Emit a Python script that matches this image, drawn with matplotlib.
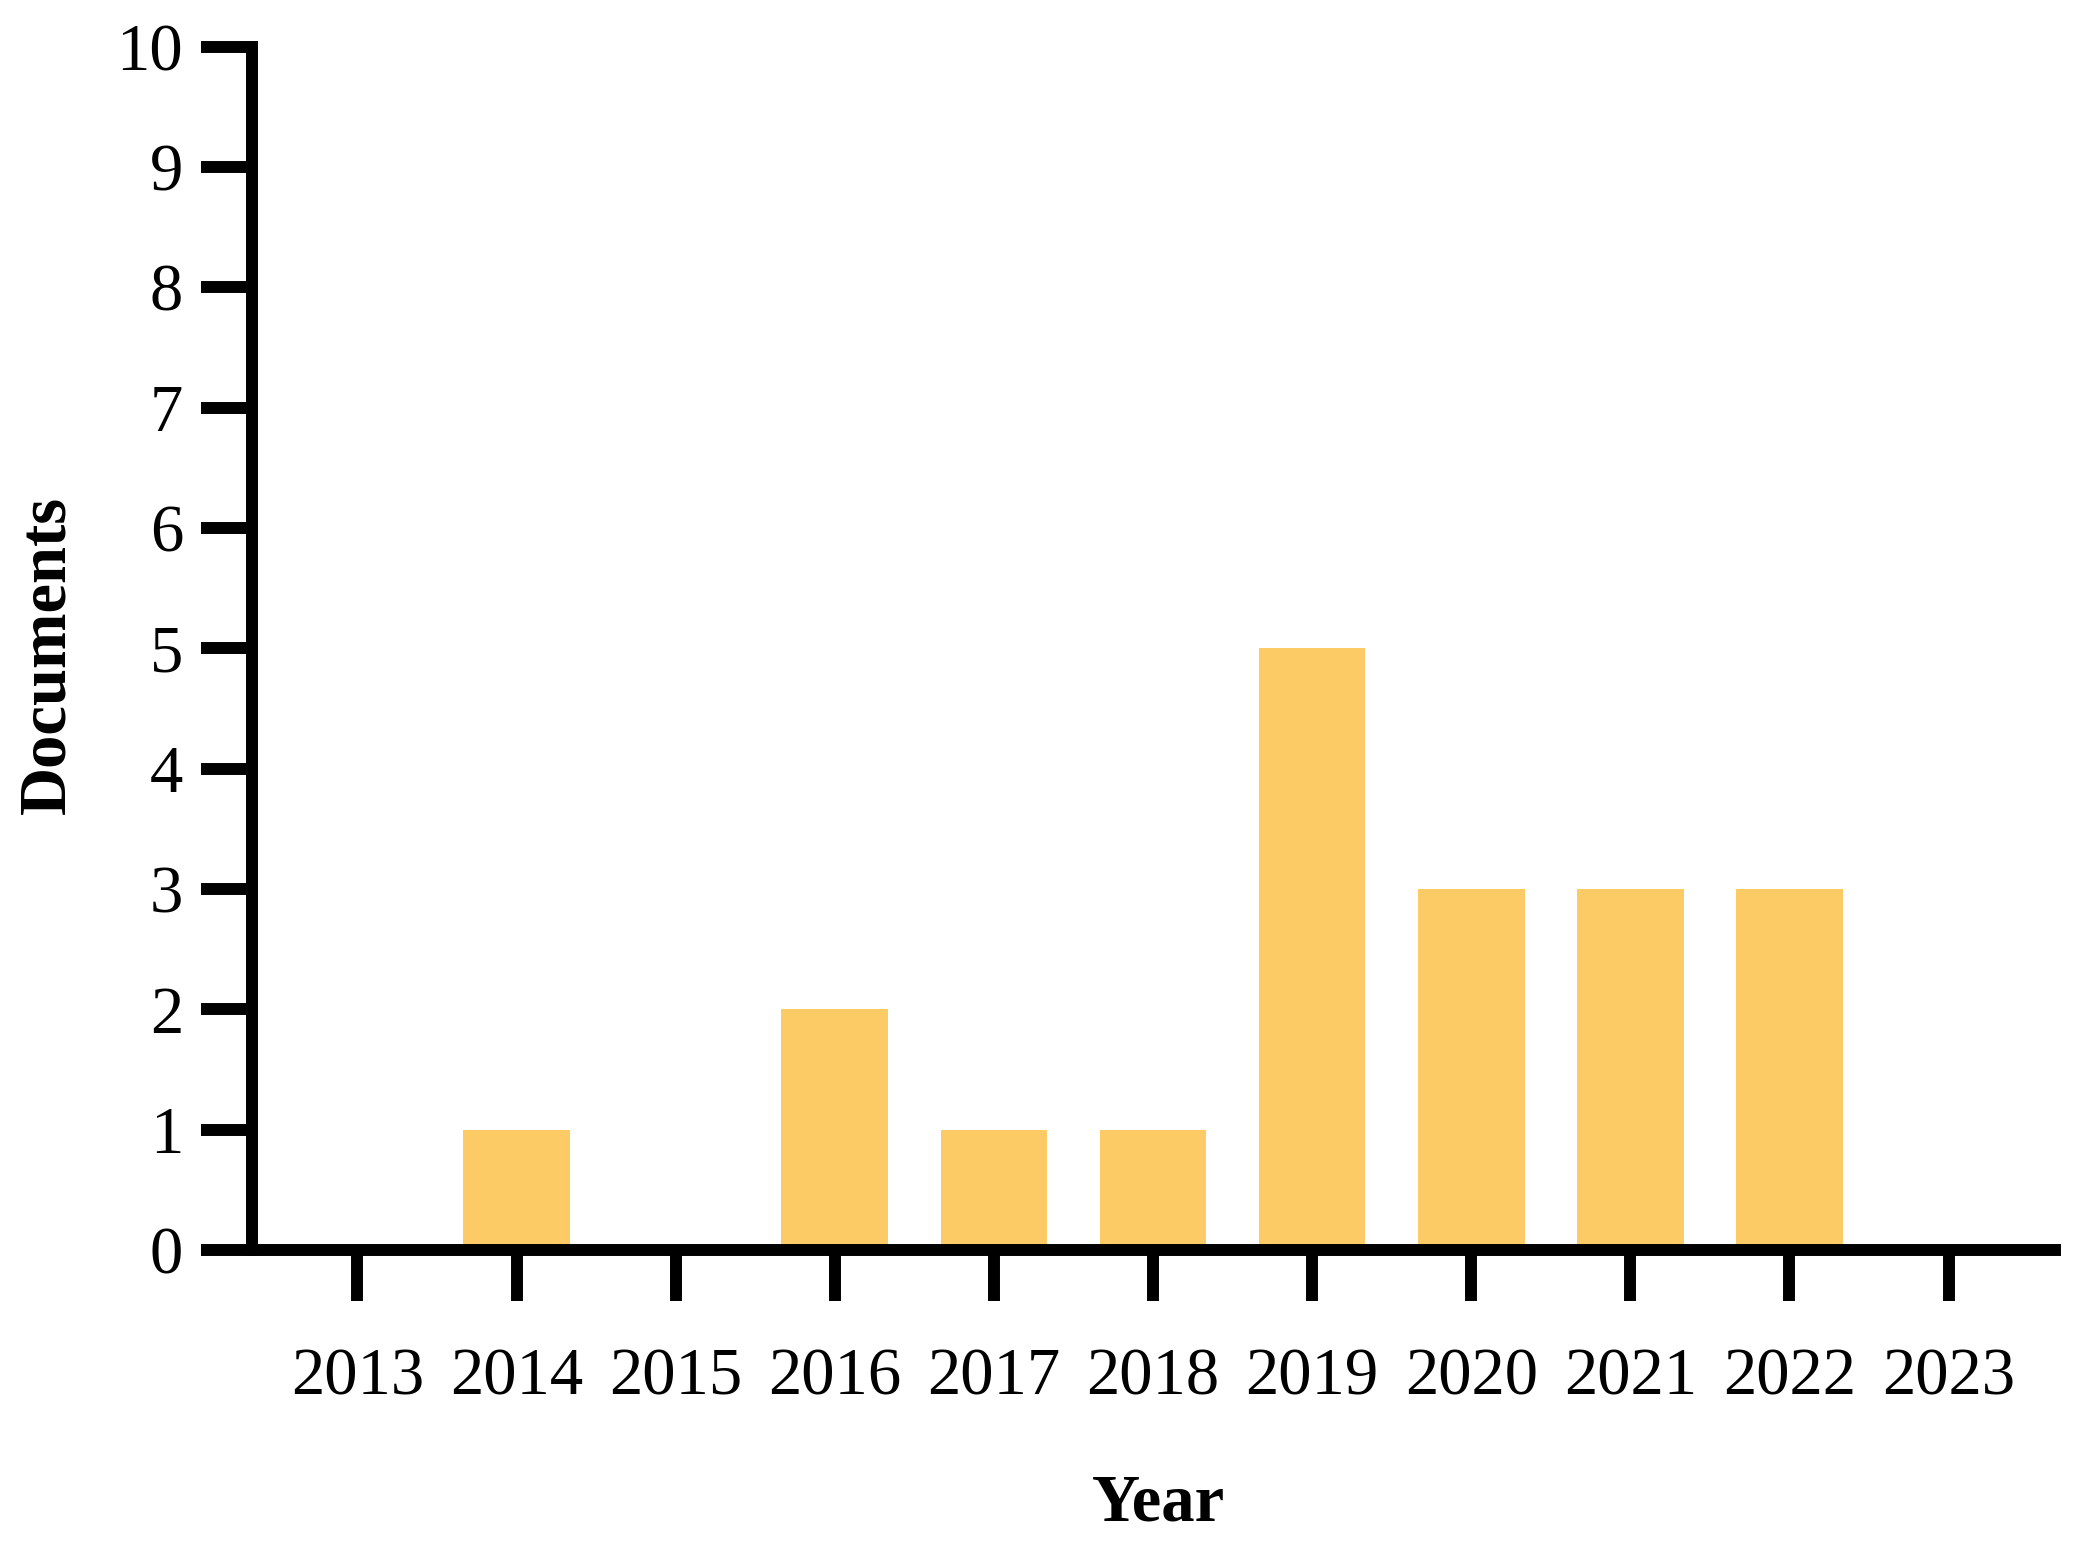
#!/usr/bin/env python3
"""Bar chart of documents published per year."""

import matplotlib
matplotlib.use('Agg')
matplotlib.rcParams.update({
    'font.family': 'serif',
    'font.serif': ['Liberation Serif', 'DejaVu Serif'],
})
import matplotlib.pyplot as plt

YEARS = [2013, 2014, 2015, 2016, 2017, 2018, 2019, 2020, 2021, 2022, 2023]
DOCUMENTS = [0, 1, 0, 2, 1, 1, 5, 3, 3, 3, 0]
Y_TICKS = list(range(0, 11))

BAR_COLOR = "#FDCB66"
LW = 8.6  # spine / tick width in points


def main():
    fig = plt.figure(figsize=(20.95, 15.57), dpi=100)
    ax = fig.add_axes([0.1205, 0.1972, 0.8605, 0.7729])

    ax.bar(YEARS, DOCUMENTS, width=0.67, color=BAR_COLOR, zorder=1)

    ax.set_xlim(2012.34, 2023.67)
    ax.set_ylim(0, 10)
    ax.set_xticks(YEARS)
    ax.set_xticklabels([str(y) for y in YEARS])
    ax.set_yticks(Y_TICKS)

    for side in ("top", "right"):
        ax.spines[side].set_visible(False)
    for side in ("left", "bottom"):
        ax.spines[side].set_linewidth(LW)
        ax.spines[side].set_zorder(3)
    ax.spines["left"].set_capstyle("projecting")

    ax.tick_params(axis="both", direction="out", length=37, width=LW,
                   labelsize=48)
    ax.tick_params(axis="y", pad=13)
    ax.tick_params(axis="x", pad=33)

    fig.text(48 / 2095, 1 - 655 / 1557, "Documents", rotation=90,
             ha="center", va="center", fontsize=48, fontweight="bold")
    fig.text(1158 / 2095, 1 - 1504 / 1557, "Year",
             ha="center", va="center", fontsize=48, fontweight="bold")

    fig.savefig("out.png", dpi=100)
    plt.close(fig)


if __name__ == "__main__":
    main()
